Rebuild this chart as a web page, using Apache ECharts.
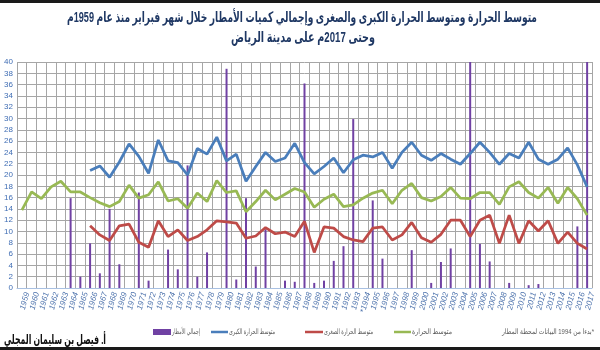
<!DOCTYPE html>
<html>
<head>
<meta charset="utf-8">
<script src="https://cdn.jsdelivr.net/npm/echarts@6/dist/echarts.min.js"></script>
<style>
  html, body { margin: 0; padding: 0; background: #ffffff; }
  #chart { width: 600px; height: 350px; }
</style>
</head>
<body>
<div id="chart"></div>
<script>
// February climate of Riyadh, 1959–2017
const years = [];
for (let y = 1959; y <= 2017; y++) years.push(String(y));
const yearLabels = years.map(y => (y === '1994' ? '*1994' : y));

// Total rainfall (mm)
const rainTotal = [
  0, 0, 0, 0, 0, 15.9, 2.0, 7.9, 2.6, 14.0,
  4.2, 0, 16.9, 1.3, 0, 6.8, 3.3, 21.7, 2.0, 6.3,
  0, 38.8, 1.5, 15.9, 3.8, 10.4, 0, 1.3, 1.1, 36.2,
  0.9, 1.3, 4.8, 7.4, 29.9, 0, 15.5, 5.2, 0, 0,
  6.7, 0, 0.9, 4.6, 7.0, 0, 40, 7.8, 4.7, 0,
  0.9, 0, 0.5, 0.7, 0, 0, 0, 10.9, 40
];

// Mean maximum temperature (°C)
const maxTemp = [
  null, null, null, null, null, null, null, 20.8, 21.6, 19.6,
  22.3, 25.5, 23.3, 20.3, 26.2, 22.5, 22.2, 20.0, 24.7, 23.7,
  26.7, 22.5, 23.7, 18.9, 21.5, 24.0, 22.4, 23.0, 25.6, 22.2,
  20.2, 21.5, 23.0, 20.4, 22.7, 23.5, 23.2, 24.0, 21.2, 24.0,
  25.8, 23.5, 22.6, 23.8, 22.8, 21.9, 23.8, 25.8, 24.0, 21.9,
  23.8, 23.0, 25.8, 22.8, 21.9, 22.8, 24.8, 21.8, 17.9
];

// Mean minimum temperature (°C)
const minTemp = [
  null, null, null, null, null, null, null, 11.0, 9.4, 8.4,
  11.0, 11.3, 8.1, 7.2, 11.9, 9.1, 10.3, 8.4, 9.1, 10.3,
  11.9, 11.7, 11.5, 8.8, 9.2, 10.7, 9.6, 9.9, 9.1, 11.8,
  6.3, 10.8, 10.6, 9.1, 8.5, 8.2, 10.6, 10.8, 8.5, 9.4,
  11.6, 8.9, 8.1, 9.5, 12.0, 12.0, 9.1, 12.0, 12.9, 7.9,
  12.9, 7.9, 11.9, 10.1, 11.9, 7.9, 9.9, 7.9, 6.9
];

// Mean temperature (°C)
const meanTemp = [
  13.8, 17.0, 15.8, 17.9, 18.9, 17.0, 17.0, 16.0, 15.1, 14.4,
  15.3, 18.2, 15.9, 16.5, 18.8, 15.4, 15.8, 14.1, 16.8, 15.3,
  19.0, 16.9, 17.2, 13.5, 15.3, 17.3, 15.6, 16.6, 17.6, 17.0,
  14.3, 15.7, 16.6, 14.4, 14.7, 15.9, 16.8, 17.3, 14.9, 17.3,
  18.5, 16.0, 15.4, 16.2, 17.8, 15.9, 15.8, 16.9, 16.9, 14.8,
  17.9, 18.8, 16.9, 15.9, 17.8, 15.0, 17.8, 15.8, 12.9
];

const seriesNames = ['إجمالي الأمطار', 'متوسط الحرارة الكبرى', 'متوسط الحرارة الصغرى', 'متوسط الحرارة'];
const titleLines = [
  'متوسط الحرارة ومتوسط الحرارة الكبرى والصغرى وإجمالي كميات الأمطار خلال شهر فبراير منذ عام 1959م',
  'وحتى 2017م على مدينة الرياض'
];
const authorText = 'أ. فيصل بن سليمان المجلي';
const noteText = '\u200F*بدءا من 1994 البيانات لمحطة المطار';

const FONT = 'Arial, "Liberation Sans", "DejaVu Sans", sans-serif';
const colors = { rain: '#7041a3', max: '#4a7ebb', min: '#be4b48', mean: '#98b954' };
const seriesColors = [colors.rain, colors.max, colors.min, colors.mean];

// Arabic glyphs fall back to a wide face, so text blocks are squeezed to their set widths
const measureCtx = document.createElement('canvas').getContext('2d');
function squeezedText(str, font, cx, cy, width, fill, align) {
  measureCtx.font = font;
  const w = measureCtx.measureText(str).width;
  return {
    type: 'text', x: cx, y: cy, scaleX: Math.min(1, width / w), z: 50,
    style: { text: str, font: font, fill: fill, align: align || 'center', verticalAlign: 'middle' }
  };
}

// legend: [icon left, icon width, icon height, text width]
const legendLayout = [
  [153, 18, 6, 28],
  [211, 17, 2.5, 46],
  [305, 18, 2.5, 49],
  [394, 17, 2.5, 40]
];
const legendY = 332;
const legendGraphics = [];
legendLayout.forEach((l, i) => {
  legendGraphics.push({
    type: 'rect', z: 50,
    shape: { x: l[0], y: legendY - l[2] / 2, width: l[1], height: l[2] },
    style: { fill: seriesColors[i] }
  });
  legendGraphics.push(squeezedText(seriesNames[i], '7.5px ' + FONT, l[0] + l[1] + 1, legendY, l[3], '#595959', 'left'));
});

const chart = echarts.init(document.getElementById('chart'), null, { renderer: 'canvas' });

chart.setOption({
  animation: false,
  backgroundColor: '#ffffff',
  grid: { left: 17, right: 8, top: 62, bottom: 62 },
  xAxis: {
    type: 'category',
    data: yearLabels,
    boundaryGap: true,
    axisLine: { show: true, lineStyle: { color: '#a9c1e3', width: 1 } },
    axisTick: { show: false },
    splitLine: { show: true, interval: 0, lineStyle: { color: '#a6a6a6', width: 1 } },
    axisLabel: {
      interval: 0, rotate: 75, fontSize: 8, color: '#4f74ad', margin: 3,
      fontFamily: FONT, fontStyle: 'italic', verticalAlign: 'top', lineHeight: 11
    }
  },
  yAxis: {
    type: 'value', min: 0, max: 40, interval: 2,
    axisLine: { show: false },
    axisTick: { show: false },
    splitLine: { show: true, lineStyle: { color: '#a6a6a6', width: 1 } },
    axisLabel: { fontSize: 8, color: '#3f6db4', margin: 4, fontFamily: FONT }
  },
  series: [
    {
      name: seriesNames[0], type: 'bar', data: rainTotal, barWidth: 2,
      itemStyle: { color: colors.rain }, z: 2
    },
    {
      name: seriesNames[1], type: 'line', data: maxTemp, symbol: 'none',
      lineStyle: { color: colors.max, width: 2.75 }, itemStyle: { color: colors.max }, z: 3
    },
    {
      name: seriesNames[2], type: 'line', data: minTemp, symbol: 'none',
      lineStyle: { color: colors.min, width: 2.75 }, itemStyle: { color: colors.min }, z: 3
    },
    {
      name: seriesNames[3], type: 'line', data: meanTemp, symbol: 'none',
      lineStyle: { color: colors.mean, width: 2.75 }, itemStyle: { color: colors.mean }, z: 3
    }
  ],
  graphic: [
    { type: 'rect', z: 100, shape: { x: 0, y: 0, width: 600, height: 3 }, style: { fill: '#1a1a1a' } },
    { type: 'rect', z: 100, shape: { x: 0, y: 347, width: 600, height: 3 }, style: { fill: '#1a1a1a' } },
    squeezedText(titleLines[0], 'bold 14.5px ' + FONT, 302, 18, 470, '#1f3864'),
    squeezedText(titleLines[1], 'bold 14.5px ' + FONT, 303, 38, 144, '#1f3864'),
    squeezedText(authorText, 'bold 13.5px ' + FONT, 4, 340, 102, '#111111', 'left'),
    squeezedText(noteText, '7.5px ' + FONT, 502, 332, 92, '#595959', 'left')
  ].concat(legendGraphics)
});
</script>
</body>
</html>
